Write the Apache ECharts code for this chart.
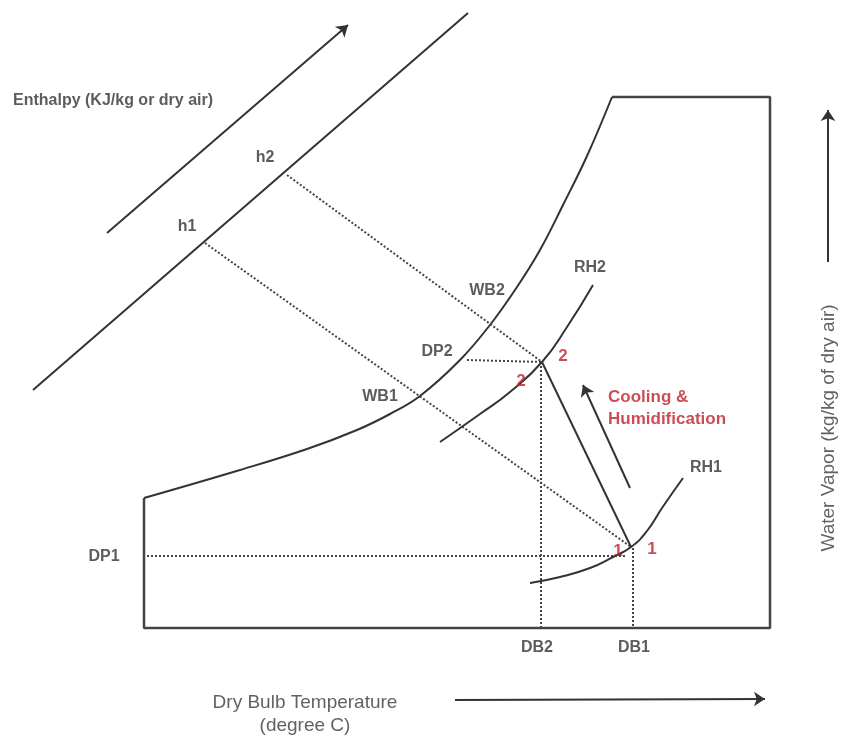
<!DOCTYPE html>
<html><head><meta charset="utf-8">
<script src="https://cdn.jsdelivr.net/npm/echarts@6/dist/echarts.min.js"></script>
<style>html,body{margin:0;padding:0;background:#fff}#c{width:843px;height:741px}</style>
</head><body><div id="c"></div>
<script>
// Schematic psychrometric chart, values in chart units (x: dry-bulb axis, y: downward sheet units)
const boundary = [[612,97],[770,97],[770,628],[144,628],[144,498]];
const saturation = [[144,498],[240,470],[307,449],[357,430],[390,414],[420,396],[460,360],[490,325],[517,287],[540,250],[563,205],[587,156],[612,97]];
const enthalpyLine = [[33,390],[468,13]];
const enthalpyArrow = [[107,233],[348,25]];
const wb1 = [[205,243],[631,547]];
const wb2 = [[287,175],[542,362]];
const dp1 = [[147,556],[625,556]];
const dp2 = [[467,360],[542,362]];
const db1 = [[633,548],[633,628]];
const db2 = [[541,362],[541,628]];
const rh1 = [[530,583],[560,577],[590,568],[613,557],[631,547],[647,531],[662,508],[683,478]];
const rh2 = [[440,442],[480,414],[510,392],[542,362],[567,327],[593,285]];
const process = [[631,547],[542,362]];
const processArrow = [[630,488],[583,385]];
const xAxisArrow = [[455,700],[765,699]];
const yAxisArrow = [[828,262],[828,110]];

const grayLabels = [
  ['Enthalpy (KJ/kg or dry air)', 13, 101, 'left'],
  ['h2', 265, 158, 'center'],
  ['h1', 187, 227, 'center'],
  ['WB2', 487, 291, 'center'],
  ['WB1', 380, 397, 'center'],
  ['DP2', 437, 352, 'center'],
  ['DP1', 104, 557, 'center'],
  ['RH2', 590, 268, 'center'],
  ['RH1', 706, 468, 'center'],
  ['DB2', 537, 648, 'center'],
  ['DB1', 634, 648, 'center']
];
const redLabels = [
  ['2', 563, 356, 'center'],
  ['2', 521, 381, 'center'],
  ['1', 652, 549, 'center'],
  ['1', 618, 551, 'center'],
  ['Cooling &', 608, 397, 'left'],
  ['Humidification', 608, 419, 'left']
];
const axisTitles = [
  ['Dry Bulb Temperature', 305, 703, 'center', 0],
  ['(degree C)', 305, 726, 'center', 0],
  ['Water Vapor (kg/kg of dry air)', 829, 428, 'center', 90]
];

function line(data, opts) {
  return Object.assign({
    type: 'line', data: data, showSymbol: false, symbol: 'none', silent: true,
    lineStyle: { color: '#333', width: 2 }, z: 3
  }, opts || {});
}
function arrow(data, w) {
  return {
    type: 'lines', coordinateSystem: 'cartesian2d', silent: true, polyline: false,
    symbol: ['none', 'arrow'], symbolSize: 11,
    lineStyle: { color: '#333', width: w || 2, opacity: 1 },
    data: [{ coords: data }], z: 4
  };
}
function labels(arr, color, weight, size) {
  return {
    type: 'scatter', symbolSize: 0, silent: true, z: 6,
    data: arr.map(a => ({
      value: [a[1], a[2]],
      label: {
        show: true, position: 'inside', formatter: a[0], align: a[3],
        verticalAlign: 'middle', rotate: a[4] || 0,
        color: color, fontWeight: weight, fontSize: size,
        fontFamily: 'Liberation Sans, Arial, sans-serif'
      }
    }))
  };
}

const chart = echarts.init(document.getElementById('c'));
chart.setOption({
  animation: false,
  backgroundColor: '#fff',
  grid: { left: 0, right: 0, top: 0, bottom: 0 },
  xAxis: { type: 'value', min: 0, max: 843, show: false },
  yAxis: { type: 'value', min: 0, max: 741, inverse: true, show: false },
  series: [
    line(boundary, { lineStyle: { color: '#444', width: 2.5 } }),
    line(saturation, { smooth: 0.4, lineStyle: { color: '#333', width: 2 } }),
    line(enthalpyLine),
    arrow(enthalpyArrow, 2),
    line(wb1, { lineStyle: { color: '#444', width: 2, type: [2, 2] } }),
    line(wb2, { lineStyle: { color: '#444', width: 2, type: [2, 2] } }),
    line(dp1, { lineStyle: { color: '#444', width: 2, type: [2, 2] } }),
    line(dp2, { lineStyle: { color: '#444', width: 2, type: [2, 2] } }),
    line(db1, { lineStyle: { color: '#444', width: 2, type: [2, 2] } }),
    line(db2, { lineStyle: { color: '#444', width: 2, type: [2, 2] } }),
    line(rh1, { smooth: 0.5 }),
    line(rh2, { smooth: 0.5 }),
    line(process),
    arrow(processArrow, 2),
    arrow(xAxisArrow, 2),
    arrow(yAxisArrow, 2),
    labels(grayLabels, '#333', 'bold', 16),
    labels(redLabels, '#c0202a', 'bold', 17),
    labels(axisTitles, '#3a3a3a', 'normal', 19)
  ]
});
</script></body></html>
